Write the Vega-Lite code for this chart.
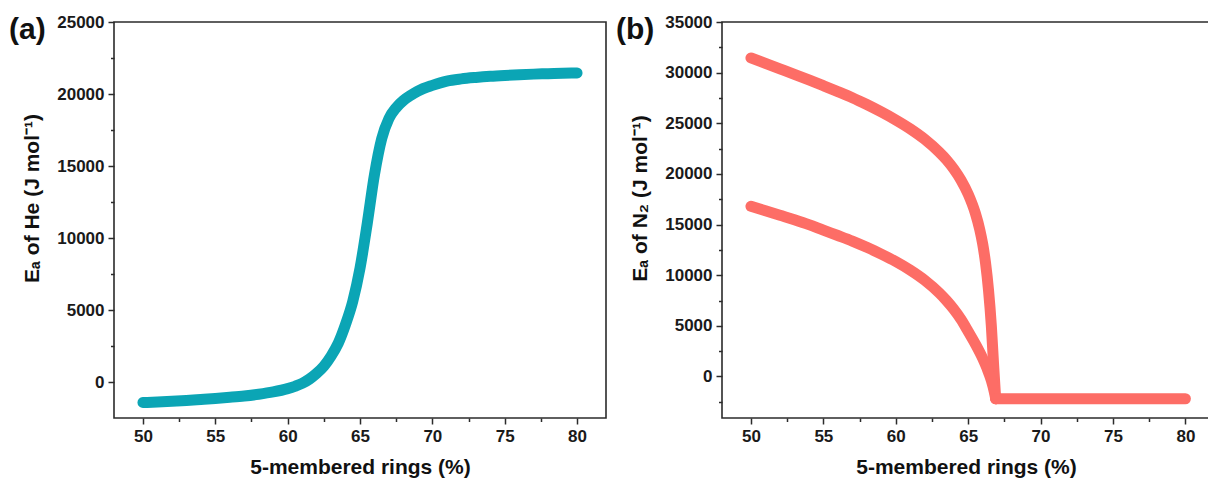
{
  "$schema": "https://vega.github.io/schema/vega-lite/v6.json",
  "padding": {"left": 8, "top": 12, "right": 0, "bottom": 0},
  "spacing": 8,
  "config": {
    "view": {"stroke": "#2b2b2b", "strokeWidth": 1.6},
    "axis": {
      "domain": false,
      "grid": false,
      "labelFont": "Liberation Sans",
      "labelFontSize": 17,
      "labelFontWeight": "bold",
      "labelColor": "#1a1a1a",
      "titleFont": "Liberation Sans",
      "titleFontSize": 21,
      "titleFontWeight": "bold",
      "titleColor": "#111111",
      "tickColor": "#2b2b2b",
      "tickWidth": 1.5,
      "labelPadding": 4
    },
    "title": {"font": "Liberation Sans", "fontSize": 30, "fontWeight": "bold", "color": "#111111"}
  },
  "hconcat": [
    {
      "width": 492,
      "height": 396,
      "title": {"text": "(a)", "frame": "group", "anchor": "start", "dx": -105, "dy": 60, "baseline": "alphabetic"},
      "data": {"values": [
        {"x": 50, "y": -1430}, {"x": 51, "y": -1390}, {"x": 52, "y": -1340}, {"x": 53, "y": -1280},
        {"x": 54, "y": -1210}, {"x": 55, "y": -1140}, {"x": 56, "y": -1060}, {"x": 57, "y": -970},
        {"x": 58, "y": -850}, {"x": 59, "y": -690}, {"x": 60, "y": -460}, {"x": 60.5, "y": -300},
        {"x": 61, "y": -100}, {"x": 61.5, "y": 200}, {"x": 62, "y": 600}, {"x": 62.5, "y": 1100},
        {"x": 63, "y": 1800}, {"x": 63.5, "y": 2700}, {"x": 64, "y": 4000}, {"x": 64.5, "y": 5600},
        {"x": 65, "y": 7900}, {"x": 65.5, "y": 11000}, {"x": 66, "y": 14400}, {"x": 66.5, "y": 16900},
        {"x": 67, "y": 18300}, {"x": 67.5, "y": 19050}, {"x": 68, "y": 19550}, {"x": 68.5, "y": 19900},
        {"x": 69, "y": 20200}, {"x": 70, "y": 20600}, {"x": 71, "y": 20900}, {"x": 72, "y": 21050},
        {"x": 73, "y": 21150}, {"x": 74, "y": 21230}, {"x": 75, "y": 21290}, {"x": 76, "y": 21340},
        {"x": 77, "y": 21380}, {"x": 78, "y": 21410}, {"x": 79, "y": 21440}, {"x": 80, "y": 21460}
      ]},
      "mark": {"type": "line", "strokeWidth": 11, "strokeCap": "round", "strokeJoin": "round", "interpolate": "monotone", "color": "#0ba5b5"},
      "encoding": {
        "x": {
          "field": "x", "type": "quantitative",
          "scale": {"domain": [48, 82], "nice": false, "zero": false},
          "axis": {
            "title": "5-membered rings (%)",
            "values": [50, 52.5, 55, 57.5, 60, 62.5, 65, 67.5, 70, 72.5, 75, 77.5, 80],
            "labelExpr": "datum.value % 5 === 0 ? datum.label : ''",
            "tickSize": {"condition": {"test": "datum.value % 5 !== 0", "value": 3.5}, "value": 6},
            "titlePadding": 12
          }
        },
        "y": {
          "field": "y", "type": "quantitative",
          "scale": {"domain": [-2500, 25000], "nice": false, "zero": false},
          "axis": {
            "title": "Eₐ of He (J mol⁻¹)",
            "values": [0, 2500, 5000, 7500, 10000, 12500, 15000, 17500, 20000, 22500, 25000],
            "labelExpr": "datum.value % 5000 === 0 ? datum.label : ''",
            "format": "d",
            "tickSize": {"condition": {"test": "datum.value % 5000 !== 0", "value": 3.5}, "value": 6},
            "titlePadding": 14,
            "titleY": 176
          }
        }
      }
    },
    {
      "width": 488,
      "height": 396,
      "title": {"text": "(b)", "frame": "group", "anchor": "start", "dx": -106, "dy": 60, "baseline": "alphabetic"},
      "data": {"values": [
        {"s": "upper", "x": 50, "y": 31450}, {"s": "upper", "x": 51, "y": 30910}, {"s": "upper", "x": 52, "y": 30370},
        {"s": "upper", "x": 53, "y": 29830}, {"s": "upper", "x": 54, "y": 29280}, {"s": "upper", "x": 55, "y": 28710},
        {"s": "upper", "x": 56, "y": 28130}, {"s": "upper", "x": 57, "y": 27530}, {"s": "upper", "x": 58, "y": 26850},
        {"s": "upper", "x": 59, "y": 26120}, {"s": "upper", "x": 60, "y": 25330}, {"s": "upper", "x": 61, "y": 24450},
        {"s": "upper", "x": 62, "y": 23420}, {"s": "upper", "x": 63, "y": 22150}, {"s": "upper", "x": 63.5, "y": 21400},
        {"s": "upper", "x": 64, "y": 20500}, {"s": "upper", "x": 64.5, "y": 19400}, {"s": "upper", "x": 65, "y": 18000},
        {"s": "upper", "x": 65.5, "y": 16100}, {"s": "upper", "x": 65.8, "y": 14500}, {"s": "upper", "x": 66, "y": 13100},
        {"s": "upper", "x": 66.2, "y": 11200}, {"s": "upper", "x": 66.4, "y": 8600}, {"s": "upper", "x": 66.6, "y": 5000},
        {"s": "upper", "x": 66.75, "y": 1300}, {"s": "upper", "x": 66.9, "y": -2200},
        {"s": "lower", "x": 50, "y": 16800}, {"s": "lower", "x": 51, "y": 16360}, {"s": "lower", "x": 52, "y": 15920},
        {"s": "lower", "x": 53, "y": 15480}, {"s": "lower", "x": 54, "y": 15000}, {"s": "lower", "x": 55, "y": 14450},
        {"s": "lower", "x": 56, "y": 13920}, {"s": "lower", "x": 57, "y": 13370}, {"s": "lower", "x": 58, "y": 12750},
        {"s": "lower", "x": 59, "y": 12080}, {"s": "lower", "x": 60, "y": 11350}, {"s": "lower", "x": 61, "y": 10500},
        {"s": "lower", "x": 62, "y": 9500}, {"s": "lower", "x": 63, "y": 8250}, {"s": "lower", "x": 63.5, "y": 7500},
        {"s": "lower", "x": 64, "y": 6650}, {"s": "lower", "x": 64.5, "y": 5650}, {"s": "lower", "x": 65, "y": 4450},
        {"s": "lower", "x": 65.5, "y": 3200}, {"s": "lower", "x": 66, "y": 1800}, {"s": "lower", "x": 66.3, "y": 800},
        {"s": "lower", "x": 66.6, "y": -400}, {"s": "lower", "x": 66.8, "y": -1500}, {"s": "lower", "x": 66.9, "y": -2200},
        {"s": "flat", "x": 66.9, "y": -2200}, {"s": "flat", "x": 80, "y": -2200}
      ]},
      "mark": {"type": "line", "strokeWidth": 11, "strokeCap": "round", "strokeJoin": "round", "interpolate": "monotone", "color": "#fd6d66"},
      "encoding": {
        "detail": {"field": "s"},
        "x": {
          "field": "x", "type": "quantitative",
          "scale": {"domain": [48, 81.7], "nice": false, "zero": false},
          "axis": {
            "title": "5-membered rings (%)",
            "values": [50, 52.5, 55, 57.5, 60, 62.5, 65, 67.5, 70, 72.5, 75, 77.5, 80],
            "labelExpr": "datum.value % 5 === 0 ? datum.label : ''",
            "tickSize": {"condition": {"test": "datum.value % 5 !== 0", "value": 3.5}, "value": 6},
            "titlePadding": 12
          }
        },
        "y": {
          "field": "y", "type": "quantitative",
          "scale": {"domain": [-4100, 35000], "nice": false, "zero": false},
          "axis": {
            "title": "Eₐ of N₂ (J mol⁻¹)",
            "values": [-2500, 0, 2500, 5000, 7500, 10000, 12500, 15000, 17500, 20000, 22500, 25000, 27500, 30000, 32500, 35000],
            "labelExpr": "datum.value % 5000 === 0 ? datum.label : ''",
            "format": "d",
            "tickSize": {"condition": {"test": "datum.value % 5000 !== 0", "value": 3.5}, "value": 6},
            "titlePadding": 14,
            "titleY": 176
          }
        }
      }
    }
  ]
}
